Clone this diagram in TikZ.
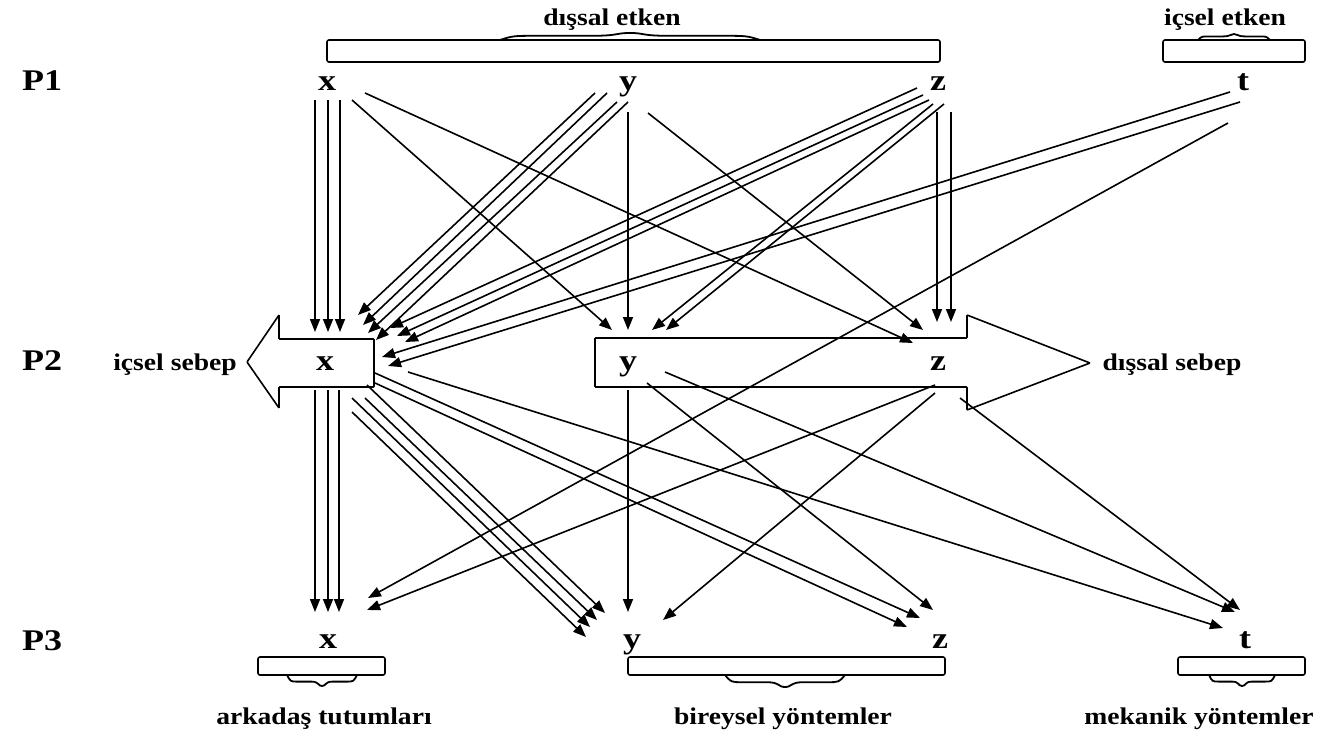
\documentclass[tikz,border=0pt]{standalone}
\usepackage{fontspec}
\setmainfont{Liberation Serif}
\newfontfamily\lblfont[FakeStretch=1.15]{Liberation Serif}
\newfontfamily\letfont[FakeStretch=1.2]{Liberation Serif}
\usetikzlibrary{arrows.meta}
\newcommand\cn[4]{\draw[arr] ([shift={#2}]#1.center) -- ([shift={#4}]#3.center);}
\newcommand\bump[4]{% c, y, w, h
  \draw[bracebump] ({#1-#3},#2) .. controls ({#1-0.9*#3},{#2-0.6*#4}) .. ({#1-0.7*#3},{#2-0.6*#4})
    -- ({#1-0.3*#3},{#2-0.6*#4}) .. controls ({#1-0.08*#3},{#2-0.6*#4}) and ({#1-0.12*#3},{#2-#4}) .. (#1,{#2-#4})
    .. controls ({#1+0.12*#3},{#2-#4}) and ({#1+0.08*#3},{#2-0.6*#4}) .. ({#1+0.3*#3},{#2-0.6*#4})
    -- ({#1+0.7*#3},{#2-0.6*#4}) .. controls ({#1+0.9*#3},{#2-0.6*#4}) .. ({#1+#3},#2);}
\tikzset{
  arr/.style={line width=1.6pt,-{Triangle[length=13pt,width=10pt]}},
  letter/.style={font=\letfont\fontsize{30}{30}\selectfont\bfseries,inner sep=0pt,text height=16pt,text depth=0pt},
  lbl/.style={font=\lblfont\fontsize{24}{24}\selectfont\bfseries,inner sep=0pt,anchor=base},
  blockarrow/.style={draw,line width=1.6pt,fill=white,rounded corners=0.8pt},
  bracebox/.style={draw,line width=1.6pt,rounded corners=2pt},
  bracebump/.style={line width=1.8pt}
}
\begin{document}
\begin{tikzpicture}[x=1pt,y=-1pt]
\fill[white] (0,0) rectangle (1333,742);
\useasboundingbox (0,0) rectangle (1333,742);
% block arrows
\draw[blockarrow] (374,339) -- (279,339) -- (279,315) -- (247,362) -- (279,408) -- (279,387) -- (374,387) -- cycle;
\draw[blockarrow] (595,338) -- (967,338) -- (967,315) -- (1090,363) -- (967,410) -- (967,387) -- (595,387) -- cycle;
% brace boxes
\draw[bracebox] (327,40) rectangle (940,62);
\bump{630}{40}{130}{7}
\draw[bracebox] (1163,40) rectangle (1305,62);
\bump{1234}{40}{36}{6}
\draw[bracebox] (258,657) rectangle (385,675);
\bump{322}{675}{35}{-11}
\draw[bracebox] (628,657) rectangle (945,675);
\bump{785}{675}{60}{-12}
\draw[bracebox] (1178,657) rectangle (1305,675);
\bump{1242}{675}{33}{-11}
% labels
\node[lbl] (le1) at (612,25) {dışsal etken};
\node[lbl] (le2) at (1225,25) {içsel etken};
\node[lbl] (ls1) at (175,370) {içsel sebep};
\node[lbl] (ls2) at (1172,370) {dışsal sebep};
\node[lbl] (lb1) at (324,724) {arkadaş tutumları};
\node[lbl] (lb2) at (783,724) {bireysel yöntemler};
\node[lbl] (lb3) at (1199,724) {mekanik yöntemler};
% row labels
\node[letter] (PL1) at (42,82) {P1};
\node[letter] (PL2) at (42,362) {P2};
\node[letter] (PL3) at (42,642) {P3};
% letters
\node[letter] (P1x) at (327,82) {x};
\node[letter] (P1y) at (628,82) {y};
\node[letter] (P1z) at (938,82) {z};
\node[letter] (P1t) at (1243,82) {t};
\node[letter] (P2x) at (325,362) {x};
\node[letter] (P2y) at (628,362) {y};
\node[letter] (P2z) at (938,362) {z};
\node[letter] (P3x) at (328,640) {x};
\node[letter] (P3y) at (632,640) {y};
\node[letter] (P3z) at (940,640) {z};
\node[letter] (P3t) at (1245,640) {t};
% P1 -> P2
\cn{P1x}{(-12,18)}{P2x}{(-10,-30)}
\cn{P1x}{(1,18)}{P2x}{(3,-30)}
\cn{P1x}{(13,18)}{P2x}{(15,-30)}
\cn{P1x}{(25,18)}{P2y}{(-16,-32)}
\cn{P1x}{(38,11)}{P2z}{(-25,-19)}
\cn{P1y}{(-33,11)}{P2x}{(33,-47)}
\cn{P1y}{(-21,11)}{P2x}{(38,-37)}
\cn{P1y}{(-11,20)}{P2x}{(43,-29)}
\cn{P1y}{(0,20)}{P2x}{(51,-22)}
\cn{P1y}{(0,30)}{P2y}{(0,-32)}
\cn{P1y}{(20,31)}{P2z}{(-15,-32)}
\cn{P1z}{(-21,6)}{P2x}{(65,-34)}
\cn{P1z}{(-15,13)}{P2x}{(72,-26)}
\cn{P1z}{(-9,18)}{P2x}{(80,-20)}
\cn{P1z}{(-5,22)}{P2y}{(24,-32)}
\cn{P1z}{(6,22)}{P2y}{(38,-32)}
\cn{P1z}{(-1,30)}{P2z}{(-1,-40)}
\cn{P1z}{(13,30)}{P2z}{(13,-40)}
\cn{P1t}{(-13,10)}{P2x}{(57,-5)}
\cn{P1t}{(-3,20)}{P2x}{(63,4)}
\cn{P1t}{(-15,41)}{P3x}{(40,-42)}
% P2 -> P3
\cn{P2x}{(-10,28)}{P3x}{(-13,-28)}
\cn{P2x}{(3,28)}{P3x}{(0,-28)}
\cn{P2x}{(14,28)}{P3x}{(11,-28)}
\cn{P2x}{(42,23)}{P3y}{(-27,-27)}
\cn{P2x}{(40,36)}{P3y}{(-35,-20)}
\cn{P2x}{(27,36)}{P3y}{(-42,-13)}
\cn{P2x}{(27,50)}{P3y}{(-46,-3)}
\cn{P2x}{(50,11)}{P3z}{(-20,-22)}
\cn{P2x}{(50,21)}{P3z}{(-33,-13)}
\cn{P2x}{(83,10)}{P3t}{(-22,-12)}
\cn{P2y}{(0,28)}{P3y}{(-4,-28)}
\cn{P2y}{(19,21)}{P3z}{(-7,-30)}
\cn{P2y}{(37,10)}{P3t}{(-10,-28)}
\cn{P2z}{(-3,23)}{P3x}{(39,-30)}
\cn{P2z}{(-3,31)}{P3y}{(31,-20)}
\cn{P2z}{(22,36)}{P3t}{(-5,-30)}
\end{tikzpicture}
\end{document}
